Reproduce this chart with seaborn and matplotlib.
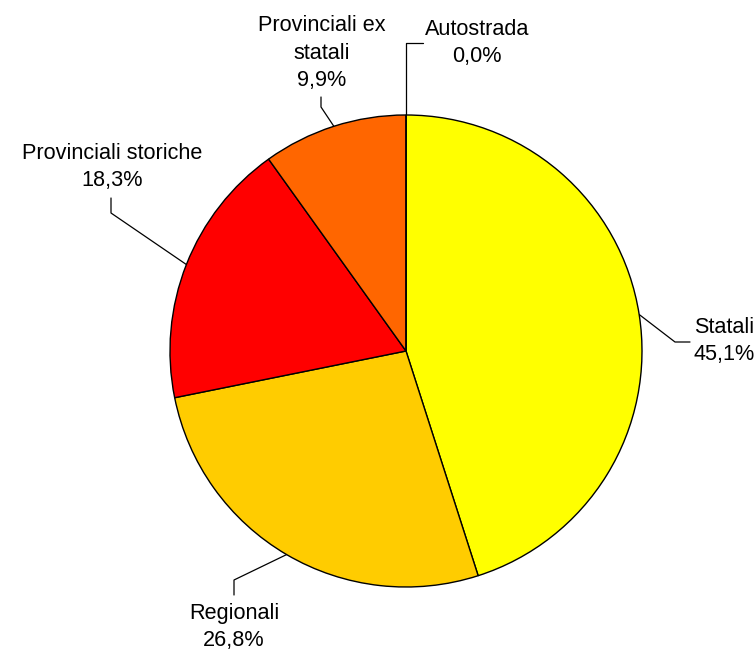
import numpy as np
import matplotlib
matplotlib.use("Agg")
import matplotlib.pyplot as plt
import seaborn as sns

# data
categories = ["Statali", "Regionali", "Provinciali storiche", "Provinciali ex\nstatali", "Autostrada"]
values = [45.1, 26.8, 18.3, 9.9, 0.0]
colors = ["#FFFF00", "#FFCC00", "#FF0000", "#FF6600", "#FFFF00"]

sns.set_theme(style="white")
plt.rcParams["font.family"] = ["Liberation Sans", "DejaVu Sans"]

W, H = 756, 652
cx, cy, R = 406, 351, 236  # pie centre / radius in pixels

def px(x, y):
    # pixel position -> data units (radius 1, centre 0,0)
    return (x - cx) / R, (cy - y) / R

# label centres and leader elbows/ends in pixels (layout)
label_pos = [(724, 341), (234, 627), (112, 167), (322, 53), (477, 43)]
elbows = [(675, 342), (234, 580), (111, 213), (321, 107), (406, 43)]
ends = [(690, 342), (234, 595), (111, 198), (321, 97), (423, 43)]

fig = plt.figure(figsize=(W / 100, H / 100), dpi=100)
ax = fig.add_axes([0, 0, 1, 1])
ax.pie(values, colors=sns.color_palette(colors), startangle=90, counterclock=False,
       radius=1, center=(0, 0),
       wedgeprops=dict(edgecolor="black", linewidth=1.0))

fracs = np.array(values) / sum(values)
cum = np.concatenate([[0], np.cumsum(fracs)])
for i, (cat, v) in enumerate(zip(categories, values)):
    mid = (cum[i] + cum[i + 1]) / 2
    ang = np.deg2rad(90 - 360 * mid)
    ex, ey = np.cos(ang), np.sin(ang)
    bx, by = px(*elbows[i])
    qx, qy = px(*ends[i])
    ax.plot([ex, bx, qx], [ey, by, qy], color="black", linewidth=0.9, zorder=0.5)
    lx, ly = px(*label_pos[i])
    txt = cat + "\n" + f"{v:.1f}".replace(".", ",") + "%"
    ax.text(lx, ly, txt, ha="center", va="center", fontsize=15.6,
            linespacing=1.42, color="black")

ax.set_xlim(-cx / R, (W - cx) / R)
ax.set_ylim(-(H - cy) / R, cy / R)
ax.set_aspect("equal")
ax.axis("off")

fig.savefig("out.png", dpi=100, facecolor="white")
